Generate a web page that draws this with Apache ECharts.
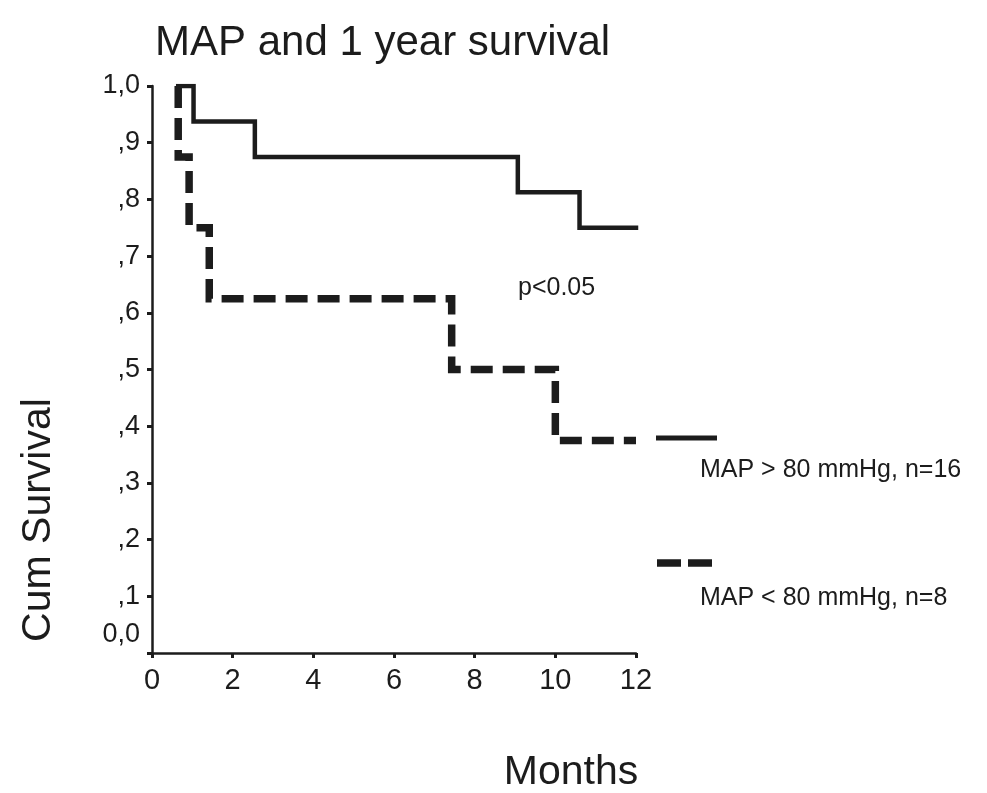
<!DOCTYPE html>
<html>
<head>
<meta charset="utf-8">
<script src="https://cdn.jsdelivr.net/npm/echarts@6/dist/echarts.min.js"></script>
<style>html,body{margin:0;padding:0;background:#fff;}#c{width:987px;height:793px;}</style>
</head>
<body>
<div id="c"></div>
<script>
// ---- data ----
var titleText = 'MAP and 1 year survival';
var xName = 'Months';
var yName = 'Cum Survival';
var pText = 'p<0.05';
var seriesNames = ['MAP > 80 mmHg, n=16', 'MAP < 80 mmHg, n=8'];
// Kaplan-Meier steps: months and cumulative survival
var highMonths = [0.65, 1.03, 2.55, 9.07, 10.6, 12.0];
var highSurv   = [1.0, 0.9375, 0.875, 0.8125, 0.75, 0.75];
var lowMonths  = [0.65, 0.65, 0.92, 1.42, 7.43, 10.0, 12.0];
var lowSurv    = [1.0, 0.875, 0.75, 0.625, 0.5, 0.375, 0.375];
var xTicks = [0, 2, 4, 6, 8, 10, 12];
var yTickLabels = {0:'0,0',1:',1',2:',2',3:',3',4:',4',5:',5',6:',6',7:',7',8:',8',9:',9',10:'1,0'};

function pairs(xs, ys){ return xs.map(function(x,i){ return [x, ys[i]]; }); }

var font = 'Liberation Sans, Arial, sans-serif';
var ink = '#1c1c1c';
var chart = echarts.init(document.getElementById('c'), null, {renderer:'canvas'});
chart.setOption({
  animation:false,
  backgroundColor:'#fff',
  title:{ text:titleText, left:150, top:17,
    textStyle:{ fontFamily:font, fontSize:42, fontWeight:'normal', color:ink } },
  grid:{ left:152, top:86, width:484, height:567, containLabel:false },
  xAxis:{ type:'value', min:xTicks[0], max:xTicks[xTicks.length-1], interval:2,
    axisLine:{ lineStyle:{ color:ink, width:2.5 } },
    axisTick:{ show:true, length:5, lineStyle:{ color:ink, width:3 } },
    axisLabel:{ fontFamily:font, fontSize:29, color:ink, margin:13 },
    splitLine:{ show:false } },
  yAxis:{ type:'value', min:0, max:1, interval:0.1,
    axisLine:{ show:true, lineStyle:{ color:ink, width:2.5 } },
    axisTick:{ show:true, length:5, lineStyle:{ color:ink, width:3 } },
    axisLabel:{ fontFamily:font, fontSize:27, color:ink, margin:12,
      formatter:function(v){
        var k = Math.round(v*10);
        return k === 0 ? '{z|' + yTickLabels[k] + '}' : yTickLabels[k];
      },
      rich:{ z:{ fontFamily:font, fontSize:27, color:ink, padding:[0,0,36,0] } } },
    splitLine:{ show:false } },
  series:[
    { name:seriesNames[0], type:'line', step:'end', symbol:'none',
      data:pairs(highMonths, highSurv),
      lineStyle:{ color:ink, width:4.5, cap:'square', join:'miter' } },
    { name:seriesNames[1], type:'line', step:'end', symbol:'none',
      data:pairs(lowMonths, lowSurv),
      lineStyle:{ color:ink, width:7.5, type:[22,10], cap:'butt', join:'miter' } }
  ],
  graphic:[
    { type:'text', left:518, top:276, style:{ text:pText, font:'25px '+font, fill:ink } },
    { type:'text', x:39, y:520, rotation:Math.PI/2,
      style:{ text:yName, font:'41px '+font, fill:ink, align:'center', verticalAlign:'middle' } },
    { type:'text', x:571, y:773,
      style:{ text:xName, font:'41px '+font, fill:ink, align:'center', verticalAlign:'middle' } },
    { type:'line', shape:{ x1:656, y1:438, x2:717, y2:438 }, style:{ stroke:ink, lineWidth:5 } },
    { type:'text', x:700, y:470, style:{ text:seriesNames[0], font:'25px '+font, fill:ink, verticalAlign:'middle' } },
    { type:'line', shape:{ x1:657, y1:563, x2:712, y2:563 }, style:{ stroke:ink, lineWidth:7.5, lineDash:[24,7] } },
    { type:'text', x:700, y:598, style:{ text:seriesNames[1], font:'25px '+font, fill:ink, verticalAlign:'middle' } }
  ]
});
</script>
</body>
</html>
